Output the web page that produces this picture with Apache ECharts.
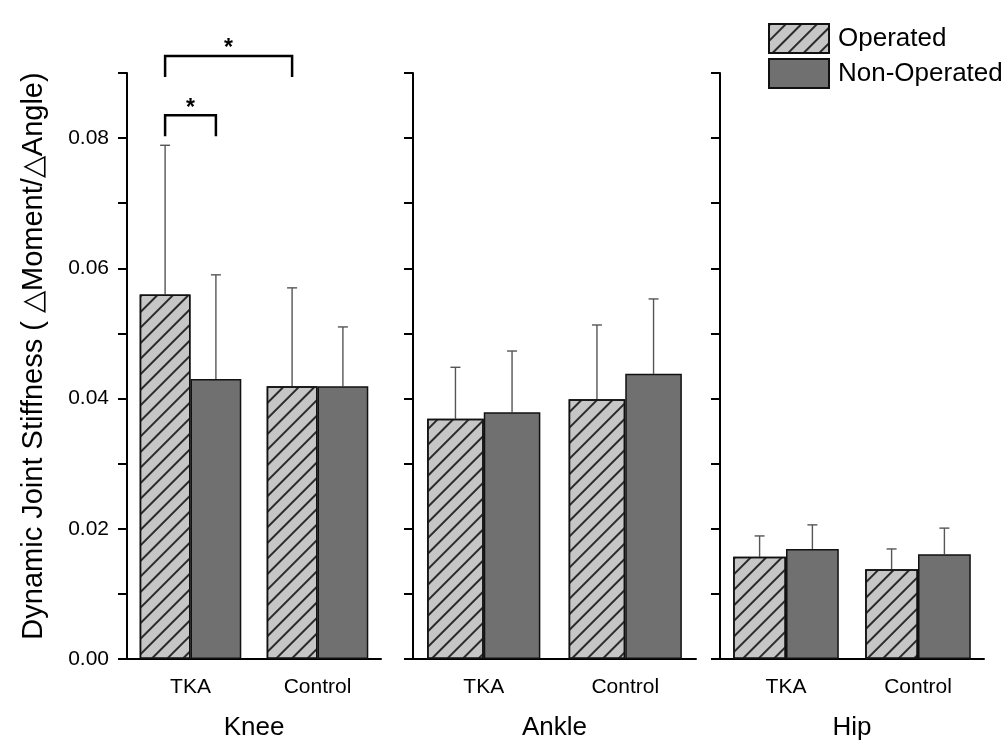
<!DOCTYPE html>
<html>
<head>
<meta charset="utf-8">
<script src="https://cdn.jsdelivr.net/npm/echarts@6/dist/echarts.min.js"></script>
<style>
  html, body { margin: 0; background: #ffffff; }
  #chart { width: 1008px; height: 750px; }
</style>
</head>
<body>
<div id="chart"></div>
<script>
  // values (mean and SD, TKA / Control)
  const groups = ['TKA', 'Control'];
  const joints = ['Knee', 'Ankle', 'Hip'];
  const kneeOperated = [0.0560, 0.0419];
  const kneeOperatedSD = [0.0229, 0.0151];
  const kneeNonOperated = [0.0430, 0.0419];
  const kneeNonOperatedSD = [0.0160, 0.0091];
  const ankleOperated = [0.0369, 0.0399];
  const ankleOperatedSD = [0.0079, 0.0114];
  const ankleNonOperated = [0.0379, 0.0438];
  const ankleNonOperatedSD = [0.0094, 0.0115];
  const hipOperated = [0.0157, 0.0138];
  const hipOperatedSD = [0.0032, 0.0031];
  const hipNonOperated = [0.0169, 0.0161];
  const hipNonOperatedSD = [0.0037, 0.0040];
  const yTicks = [0, 0.02, 0.04, 0.06, 0.08];
  // significance brackets: [fromGroup, fromSide, toGroup, toSide, lineY, legY]
  const sigBrackets = [
    [0, -1, 0, 1, 0.0835, 0.0803],
    [0, -1, 1, -1, 0.0926, 0.0894]
  ];

  const operated = [kneeOperated, ankleOperated, hipOperated];
  const operatedSD = [kneeOperatedSD, ankleOperatedSD, hipOperatedSD];
  const nonOperated = [kneeNonOperated, ankleNonOperated, hipNonOperated];
  const nonOperatedSD = [kneeNonOperatedSD, ankleNonOperatedSD, hipNonOperatedSD];

  const font = 'Liberation Sans, Arial, sans-serif';
  const panels = [
    {left: 127, width: 254},
    {left: 413, width: 283},
    {left: 720, width: 264}
  ];
  const gridTop = 73, gridHeight = 586;

  const opStyle = {
    color: '#c6c6c6',
    borderColor: '#111',
    borderWidth: 1.5,
    decal: {
      symbol: 'rect',
      symbolSize: 1,
      dashArrayX: [1, 0],
      dashArrayY: [1.2, 8.5],
      rotation: -Math.PI / 4,
      color: '#2a2a2a'
    }
  };
  const nonOpStyle = {color: '#707070', borderColor: '#111', borderWidth: 1.5};

  function errorSeries(i, mean, sd, side) {
    return {
      type: 'custom',
      xAxisIndex: i * 2,
      yAxisIndex: i,
      silent: true,
      z: 1,
      data: mean.map((m, k) => [k, m, m + sd[k]]),
      encode: {x: 0, y: [1, 2]},
      renderItem(params, api) {
        const band = api.size([1, 0])[0];
        const base = api.coord([api.value(0), api.value(1)]);
        const tip = api.coord([api.value(0), api.value(2)]);
        const x = base[0] + side * band * 0.2;
        const st = {stroke: '#555', lineWidth: 1.4};
        return {
          type: 'group',
          children: [
            {type: 'line', shape: {x1: x, y1: base[1], x2: x, y2: tip[1]}, style: st},
            {type: 'line', shape: {x1: x - 5, y1: tip[1], x2: x + 5, y2: tip[1]}, style: st}
          ]
        };
      }
    };
  }

  const grid = panels.map(p => ({left: p.left, width: p.width, top: gridTop, height: gridHeight}));
  const xAxis = [];
  const yAxis = [];
  const series = [];

  panels.forEach((p, i) => {
    xAxis.push({
      type: 'category',
      gridIndex: i,
      data: groups,
      name: joints[i],
      nameLocation: 'middle',
      nameGap: 56,
      nameTextStyle: {fontSize: 26, fontFamily: font, color: '#000'},
      axisLine: {lineStyle: {color: '#000', width: 2}},
      axisTick: {alignWithLabel: true, length: 10, lineStyle: {color: '#000', width: 2}},
      axisLabel: {fontSize: 21, fontFamily: font, color: '#000', margin: 18}
    });
    xAxis.push({
      type: 'category',
      gridIndex: i,
      data: groups,
      position: 'bottom',
      axisLine: {show: false},
      axisTick: {length: 5, lineStyle: {color: '#000', width: 2}},
      axisLabel: {show: false}
    });
    yAxis.push({
      type: 'value',
      gridIndex: i,
      min: 0,
      max: 0.09,
      interval: 0.01,
      name: i === 0 ? 'Dynamic Joint Stiffness ( \u25B3Moment/\u25B3Angle)' : '',
      nameLocation: 'middle',
      nameGap: 79,
      nameTextStyle: {fontSize: 29, fontFamily: font, color: '#000', padding: [0, 0, 0, 20]},
      splitLine: {show: false},
      axisLine: {show: true, lineStyle: {color: '#000', width: 2}},
      axisTick: {show: true, length: 9, lineStyle: {color: '#000', width: 2}},
      axisLabel: {
        show: i === 0,
        fontSize: 21,
        fontFamily: font,
        color: '#000',
        margin: 18,
        formatter: v => yTicks.some(t => Math.abs(t - v) < 1e-9) ? v.toFixed(2) : ''
      }
    });
    series.push({
      name: 'Operated', type: 'bar', xAxisIndex: i * 2, yAxisIndex: i,
      data: operated[i], barWidth: '40%', barGap: '0%', z: 2,
      itemStyle: opStyle
    });
    series.push({
      name: 'Non-Operated', type: 'bar', xAxisIndex: i * 2, yAxisIndex: i,
      data: nonOperated[i], barWidth: '40%', barGap: '0%', z: 2,
      itemStyle: nonOpStyle
    });
    series.push(errorSeries(i, operated[i], operatedSD[i], -1));
    series.push(errorSeries(i, nonOperated[i], nonOperatedSD[i], 1));
  });

  series.push({
    type: 'custom',
    xAxisIndex: 0,
    yAxisIndex: 0,
    silent: true,
    clip: false,
    z: 5,
    data: sigBrackets,
    renderItem(params, api) {
      const band = api.size([1, 0])[0];
      const a = api.coord([api.value(0), api.value(4)]);
      const b = api.coord([api.value(2), api.value(4)]);
      const leg = api.coord([0, api.value(5)])[1];
      const x1 = a[0] + api.value(1) * band * 0.2;
      const x2 = b[0] + api.value(3) * band * 0.2;
      const y = a[1];
      return {
        type: 'group',
        children: [
          {
            type: 'polyline',
            shape: {points: [[x1, leg], [x1, y], [x2, y], [x2, leg]]},
            style: {stroke: '#000', lineWidth: 2.5, fill: null}
          },
          {
            type: 'text',
            style: {
              x: (x1 + x2) / 2, y: y - 7, text: '*',
              font: 'bold 23px ' + font, fill: '#000',
              align: 'center', verticalAlign: 'middle'
            }
          }
        ]
      };
    }
  });

  const chart = echarts.init(document.getElementById('chart'));
  chart.setOption({
    backgroundColor: '#ffffff',
    animation: false,
    legend: {
      data: ['Operated', 'Non-Operated'],
      orient: 'vertical',
      left: 763,
      top: 18,
      itemWidth: 60,
      itemHeight: 29,
      itemGap: 4,
      icon: 'rect',
      textStyle: {fontSize: 26, fontFamily: font, color: '#000', padding: [0, 0, 0, 4]}
    },
    grid: grid,
    xAxis: xAxis,
    yAxis: yAxis,
    series: series
  });
</script>
</body>
</html>
